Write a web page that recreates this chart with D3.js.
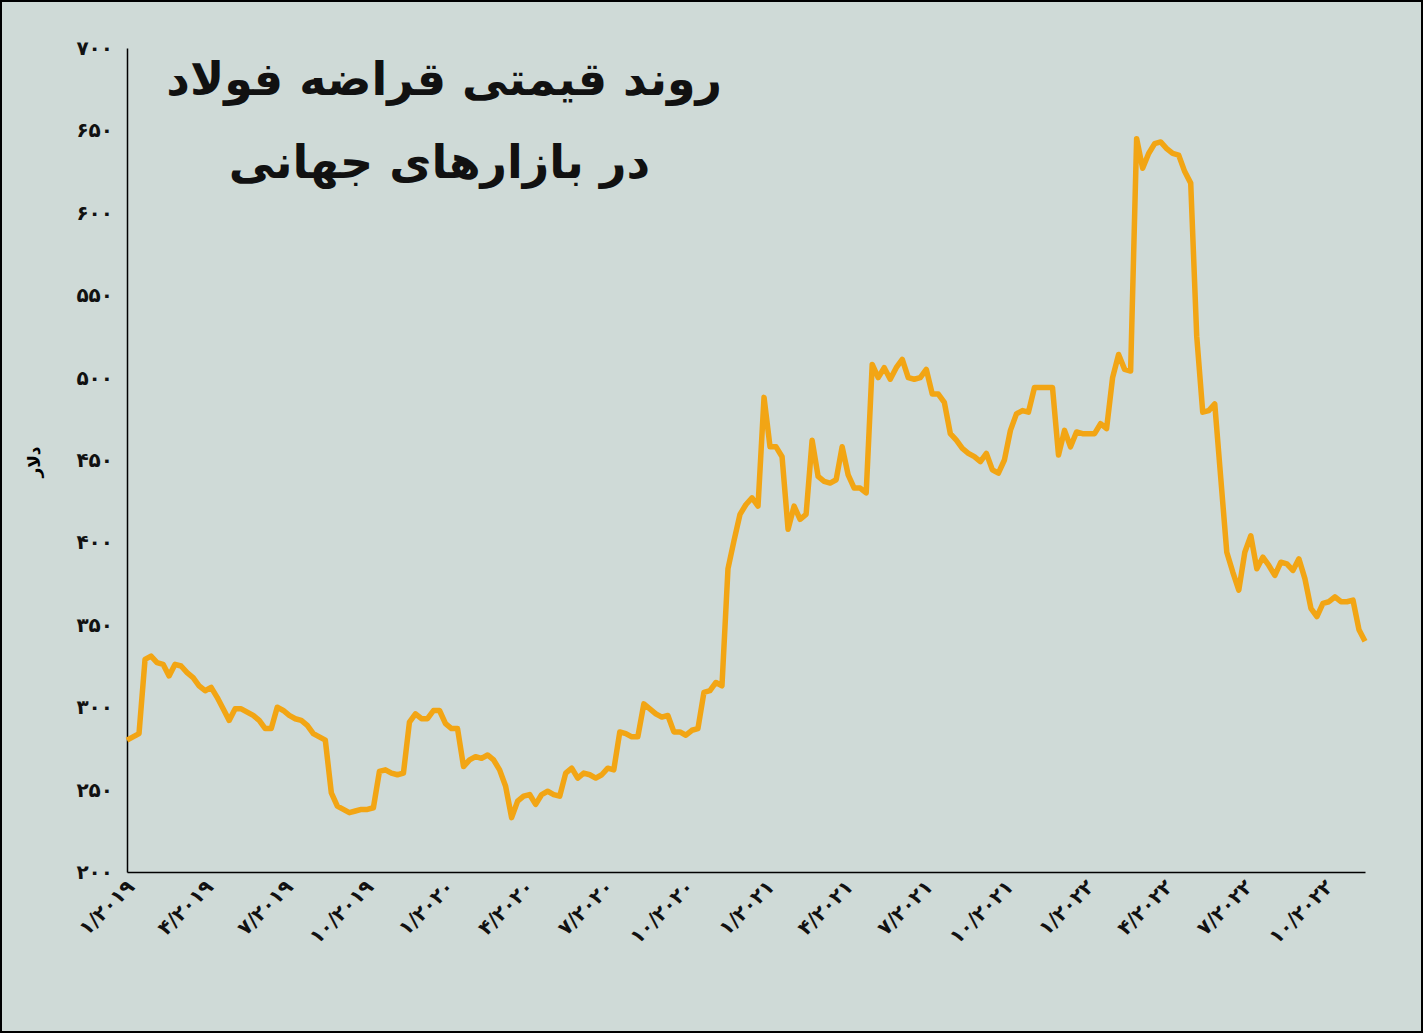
<!DOCTYPE html>
<html><head><meta charset="utf-8">
<script src="https://cdn.jsdelivr.net/npm/d3@7"></script>
<style>body{margin:0;background:#fff}</style></head>
<body><svg id="c" width="1423" height="1033"></svg>
<script>
const startDate = "2019-01-01", endDate = "2022-11-15";
const prices = [280,282,284,329,331,327,326,319,326,325,321,318,313,310,312,306,299,292,299,299,297,295,292,287,287,300,298,295,293,292,289,284,282,280,248,240,238,236,237,238,238,239,261,262,260,259,260,291,296,293,293,298,298,290,287,287,264,268,270,269,271,268,262,252,233,243,246,247,241,247,249,247,246,260,263,257,260,259,257,259,263,262,285,284,282,282,302,299,296,294,295,285,285,283,286,287,309,310,315,313,384,401,417,423,427,422,488,458,458,452,408,422,414,417,462,440,437,436,438,458,441,433,433,430,508,500,506,499,506,511,500,499,500,505,490,490,485,466,462,457,454,452,449,454,444,442,450,468,478,480,479,494,494,494,494,453,468,458,467,466,466,466,472,469,500,514,505,504,645,627,636,642,643,639,636,635,625,618,525,479,480,484,439,394,382,371,394,404,384,391,386,380,388,387,383,390,378,360,355,363,364,367,364,364,365,347,340];
const yTicks = [200,250,300,350,400,450,500,550,600,650,700];
const xTickDates = ["2019-01-01","2019-04-01","2019-07-01","2019-10-01","2020-01-01","2020-04-01","2020-07-01","2020-10-01","2021-01-01","2021-04-01","2021-07-01","2021-10-01","2022-01-01","2022-04-01","2022-07-01","2022-10-01"];
const titleLines = ["روند قیمتی قراضه فولاد","در بازارهای جهانی"];
const yLabel = "دلار";

const fa = s => String(s).replace(/\d/g, d => "۰۱۲۳۴۵۶۷۸۹"[d]);
const svg = d3.select("#c");
svg.append("rect").attr("x",1).attr("y",1).attr("width",1421).attr("height",1031).attr("fill","#cfdad7").attr("stroke","#000").attr("stroke-width",2);

const L=127,R=1365,T=48,B=872;
const t0=new Date(startDate), t1=new Date(endDate);
const x=d3.scaleTime().domain([t0,t1]).range([L,R]);
const y=d3.scaleLinear().domain([200,700]).range([B,T]);
const n=prices.length;
const data=prices.map((v,i)=>({d:new Date(+t0+(t1-t0)*i/(n-1)),v}));

const font="'DejaVu Sans', sans-serif";
const ya=svg.append("g").attr("transform",`translate(${L},0)`).call(d3.axisLeft(y).tickValues(yTicks).tickSize(0).tickPadding(14).tickFormat(fa));
ya.select(".domain").attr("stroke","#000").attr("stroke-width",1.5);
ya.selectAll("text").attr("font-family",font).attr("font-weight","bold").attr("font-size",20).attr("fill","#111");
const xa=svg.append("g").attr("transform",`translate(0,${B})`).call(d3.axisBottom(x).tickValues(xTickDates.map(s=>new Date(s))).tickSize(0).tickFormat(d=>fa((d.getMonth()+1)+"/"+d.getFullYear())));
xa.select(".domain").attr("stroke","#000").attr("stroke-width",1.5);
xa.selectAll("text").attr("font-family",font).attr("font-weight","bold").attr("font-size",20).attr("fill","#111")
  .attr("text-anchor","end").attr("dy",0).attr("transform","translate(6,14) rotate(-45)");

svg.append("path").datum(data).attr("fill","none").attr("stroke","#f2a514").attr("stroke-width",5.5).attr("stroke-linejoin","round")
  .attr("d",d3.line().x(d=>x(d.d)).y(d=>y(d.v)));

svg.append("text").attr("transform","translate(40,462) rotate(-90)").attr("text-anchor","middle").attr("font-family",font).attr("font-weight","bold").attr("font-size",17).text(yLabel);
svg.append("text").attr("x",722).attr("y",95).attr("text-anchor","start").attr("direction","rtl").attr("font-family",font).attr("font-weight","bold").attr("font-size",46).attr("fill","#111").text(titleLines[0]);
svg.append("text").attr("x",650).attr("y",178).attr("text-anchor","start").attr("direction","rtl").attr("font-family",font).attr("font-weight","bold").attr("font-size",46).attr("fill","#111").text(titleLines[1]);
</script></body></html>
